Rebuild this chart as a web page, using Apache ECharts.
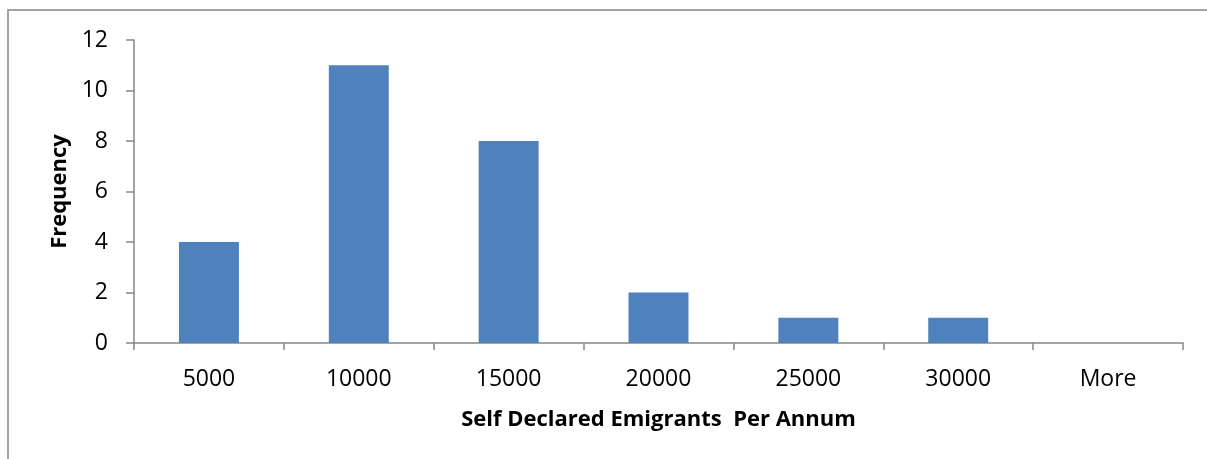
<!DOCTYPE html>
<html>
<head>
<meta charset="utf-8">
<script src="https://cdn.jsdelivr.net/npm/echarts@6/dist/echarts.min.js"></script>
<style>
  html, body { margin: 0; padding: 0; background: #fff; }
  #chart { width: 1207px; height: 459px; }
</style>
</head>
<body>
<div id="chart"></div>
<script>
const categories = ['5000', '10000', '15000', '20000', '25000', '30000', 'More']
const frequency = [4, 11, 8, 2, 1, 1, 0]
const yTicks = { min: 0, max: 12, interval: 2 }

const axisGray = '#868686'
const font = '"Open Sans", sans-serif'

const chart = echarts.init(document.getElementById('chart'))
chart.setOption({
  animation: false,
  graphic: [{
    type: 'rect',
    shape: { x: 8, y: 10, width: 1220, height: 470 },
    style: { fill: 'none', stroke: axisGray, lineWidth: 1.5 }
  }],
  grid: { left: 134, right: 24, top: 40, bottom: 116 },
  xAxis: {
    type: 'category',
    data: categories,
    name: 'Self Declared Emigrants  Per Annum',
    nameLocation: 'middle',
    nameGap: 66,
    nameTextStyle: { fontFamily: font, fontWeight: 'bold', fontSize: 22, color: '#000' },
    axisLine: { lineStyle: { color: axisGray, width: 1.5 } },
    axisTick: { show: true, length: 7, alignWithLabel: false, lineStyle: { color: axisGray, width: 1.5 } },
    axisLabel: { fontFamily: font, fontSize: 23, color: '#000', margin: 25 }
  },
  yAxis: {
    type: 'value',
    min: yTicks.min,
    max: yTicks.max,
    interval: yTicks.interval,
    name: 'Frequency',
    nameLocation: 'middle',
    nameGap: 61,
    nameTextStyle: { fontFamily: font, fontWeight: 'bold', fontSize: 22, color: '#000' },
    splitLine: { show: false },
    axisLine: { show: true, lineStyle: { color: axisGray, width: 1.5 } },
    axisTick: { show: true, length: 8, lineStyle: { color: axisGray, width: 1.5 } },
    axisLabel: { fontFamily: font, fontSize: 23, color: '#000', margin: 26 }
  },
  series: [{
    type: 'bar',
    data: frequency,
    barWidth: '40%',
    itemStyle: { color: '#4F81BD' }
  }]
})
</script>
</body>
</html>
